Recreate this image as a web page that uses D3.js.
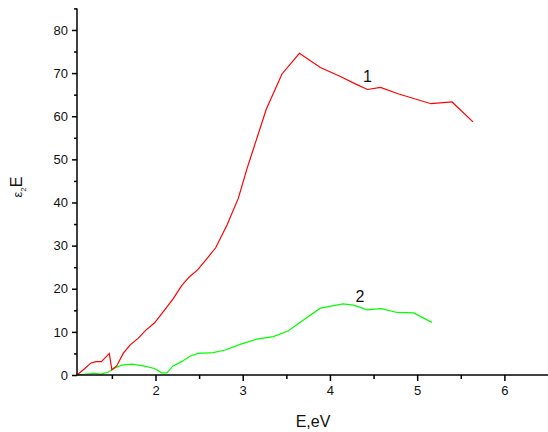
<!DOCTYPE html>
<html>
<head>
<meta charset="utf-8">
<script src="https://cdn.jsdelivr.net/npm/d3@7"></script>
<style>
  body { margin: 0; background: #fff; }
  svg { display: block; }
  text { font-family: Arial, "Liberation Sans", sans-serif; fill: #111; }
</style>
</head>
<body>
<svg id="chart" width="548" height="432"></svg>
<script>
// ---- data ----
const redE = [1.10,1.19,1.26,1.32,1.38,1.47,1.50,1.555,1.63,1.71,1.80,1.89,1.99,2.09,2.20,2.30,2.39,2.48,2.59,2.69,2.82,2.95,3.05,3.27,3.45,3.65,3.89,4.12,4.29,4.43,4.58,4.78,5.16,5.40,5.64];
const redV = [0,1.5,2.8,3.1,3.1,5.0,1.2,2.1,5.0,7.0,8.5,10.4,12.1,14.7,17.6,20.7,22.8,24.3,27.0,29.5,34.8,41.0,47.9,61.6,69.8,74.6,71.3,69.2,67.5,66.2,66.7,65.2,62.9,63.3,58.7];
const greenE = [1.10,1.29,1.38,1.46,1.52,1.61,1.73,1.86,1.99,2.07,2.13,2.20,2.30,2.40,2.49,2.66,2.80,2.97,3.16,3.35,3.52,3.70,3.89,4.15,4.27,4.43,4.59,4.77,4.96,5.17];
const greenV = [0,0.4,0.2,0.7,1.5,2.3,2.5,2.1,1.5,0.5,0.5,2.1,3.1,4.4,5.0,5.2,5.8,7.1,8.3,8.9,10.2,12.8,15.5,16.5,16.2,15.1,15.4,14.5,14.4,12.2];
const xMajor = [2,3,4,5,6];
const xMinor = [1.5,2.5,3.5,4.5,5.5];
const yMajor = [0,10,20,30,40,50,60,70,80];
const yMinor = [5,15,25,35,45,55,65,75,85];
const seriesLabels = [{t:"1", e:4.43, v:68.0}, {t:"2", e:4.345, v:17.0}];

// ---- scales ----
const svg = d3.select("#chart");
const x = d3.scaleLinear().domain([1.1, 6.5]).range([77, 548]);
const y = d3.scaleLinear().domain([0, 85]).range([375, 8.4]);

// ---- lines ----
const line = d3.line().x(d => x(d[0])).y(d => y(d[1]));
const redData = redE.map((e,i) => [e, redV[i]]);
const greenData = greenE.map((e,i) => [e, greenV[i]]);

svg.append("path").datum(greenData).attr("d", line)
  .attr("fill","none").attr("stroke","#00ff00").attr("stroke-width",1.2);
svg.append("path").datum(redData).attr("d", line)
  .attr("fill","none").attr("stroke","#ff0000").attr("stroke-width",1.2);

// ---- axes ----
const xAxis = svg.append("g").attr("transform","translate(0,375)")
  .call(d3.axisBottom(x).tickValues(xMajor).tickSize(6).tickPadding(5).tickFormat(d3.format("d")));
svg.append("g").attr("transform","translate(0,375)")
  .call(d3.axisBottom(x).tickValues(xMinor).tickSize(4).tickFormat(""))
  .call(g => g.select(".domain").remove());
const yAxis = svg.append("g").attr("transform","translate(77,0)")
  .call(d3.axisLeft(y).tickValues(yMajor).tickSize(5).tickPadding(4).tickFormat(d3.format("d")));
svg.append("g").attr("transform","translate(77,0)")
  .call(d3.axisLeft(y).tickValues(yMinor).tickSize(3).tickFormat(""))
  .call(g => g.select(".domain").remove());

xAxis.select(".domain").attr("d", `M${x(1.1)},0H548`);
yAxis.select(".domain").attr("d", `M0,${y(0)}V${y(85)}`);
svg.selectAll(".domain, .tick line").attr("stroke","#000").attr("stroke-width",1.5);
svg.selectAll(".tick text").style("font-size","13px").attr("fill","#111");

// ---- axis titles ----
svg.append("text").attr("x", 313).attr("y", 427).attr("text-anchor","middle")
  .style("font-size","16px").text("E,eV");

const yl = svg.append("text").attr("transform","translate(22,187) rotate(-90)")
  .attr("text-anchor","middle");
yl.append("tspan").style("font-size","13px").text("ε");
yl.append("tspan").style("font-size","8px").attr("dy", 4).text("2");
yl.append("tspan").style("font-size","16px").attr("dy", -4).text("E");

// ---- series labels ----
svg.selectAll(".slabel").data(seriesLabels).enter().append("text")
  .attr("class","slabel")
  .attr("x", d => x(d.e)).attr("y", d => y(d.v))
  .attr("text-anchor","middle").style("font-size","16px")
  .text(d => d.t);
</script>
</body>
</html>
